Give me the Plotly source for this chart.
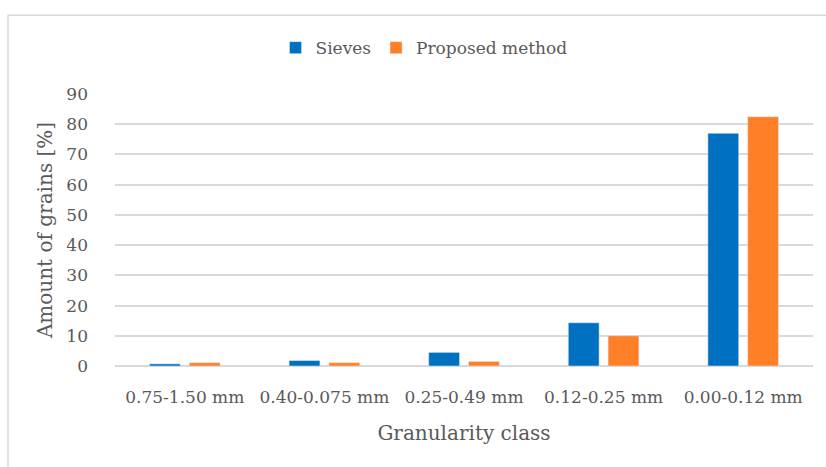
import plotly.graph_objects as go

# Granularity classes and the share of grains in each class
categories = ["0.75-1.50 mm", "0.40-0.075 mm", "0.25-0.49 mm", "0.12-0.25 mm", "0.00-0.12 mm"]
sieves = [0.7, 1.8, 4.5, 14.3, 77.0]
proposed = [1.1, 1.1, 1.5, 10.0, 82.5]
y_ticks = [0, 10, 20, 30, 40, 50, 60, 70, 80, 90]

FONT = "DejaVu Serif"
TEXT = "#595959"
GRID = "#d9d9d9"

W, H = 826, 467
ML, MR, MT, MB = 115, 13, 94, 100.5
PW, PH = W - ML - MR, H - MT - MB


def px_x(x):
    return (x - ML) / PW


def px_y(y):
    return (H - MB - y) / PH


fig = go.Figure()
fig.add_trace(go.Bar(name="Sieves", x=categories, y=sieves, marker_color="#0070C0"))
fig.add_trace(go.Bar(name="Proposed method", x=categories, y=proposed, marker_color="#FF7F27"))

fig.update_layout(
    width=W, height=H,
    margin=dict(l=ML, r=MR, t=MT, b=MB),
    paper_bgcolor="white", plot_bgcolor="white",
    barmode="group", bargap=0.43, bargroupgap=0.225,
    font=dict(family=FONT, color=TEXT, size=17),
    showlegend=True,
    legend=dict(orientation="h", x=px_x(424), xanchor="center",
                y=px_y(48), yanchor="middle",
                font=dict(family=FONT, size=17, color=TEXT),
                itemwidth=30, traceorder="normal"),
    xaxis=dict(
        showgrid=False, showline=False, ticks="",
        tickfont=dict(family=FONT, size=17, color=TEXT),
        ticklabelstandoff=19,
        title=dict(text="Granularity class", font=dict(family=FONT, size=20, color=TEXT), standoff=19),
    ),
    yaxis=dict(
        range=[0, 90], tickvals=y_ticks, ticktext=[str(v) for v in y_ticks],
        showgrid=True, gridcolor=GRID, gridwidth=1.5,
        zeroline=True, zerolinecolor=GRID, zerolinewidth=1.5,
        showline=False, ticks="",
        tickfont=dict(family=FONT, size=17, color=TEXT),
        ticklabelstandoff=26,
        title=dict(text="Amount of grains [%]", font=dict(family=FONT, size=20, color=TEXT), standoff=8),
    ),
    shapes=[dict(type="rect", xref="paper", yref="paper",
                 x0=px_x(8), x1=px_x(900), y0=px_y(600), y1=px_y(15),
                 line=dict(color=GRID, width=1.5), layer="below")],
)

fig.write_html("out.html")
